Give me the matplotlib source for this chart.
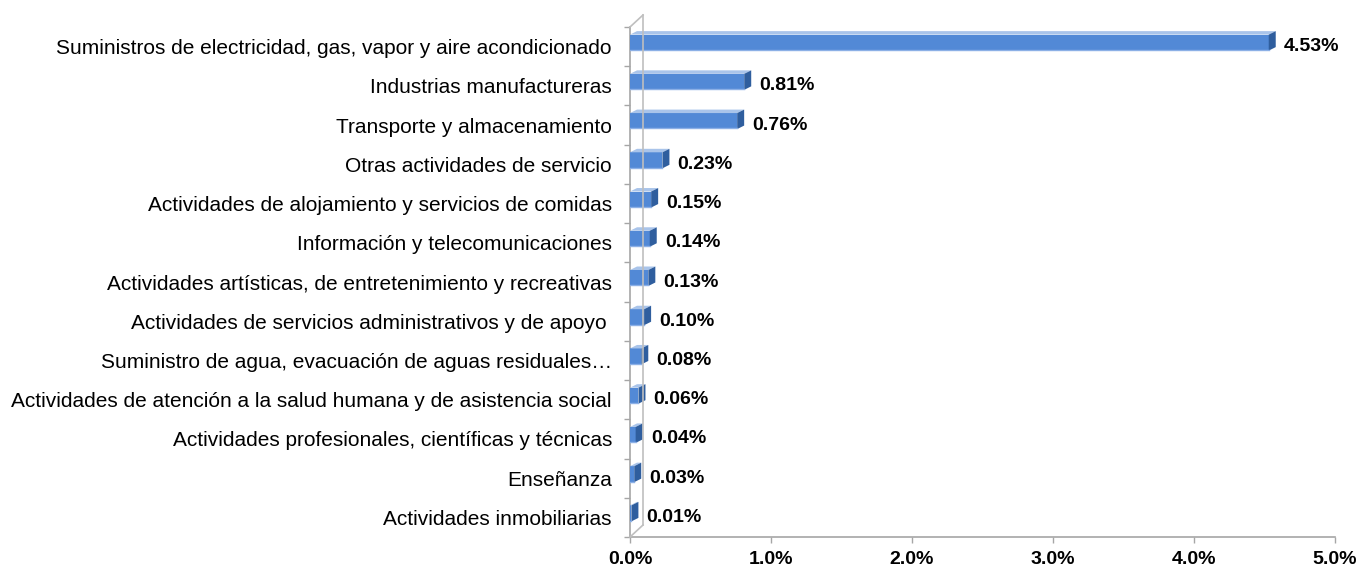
import matplotlib
matplotlib.use("Agg")
import matplotlib.pyplot as plt
from matplotlib.patches import Polygon
from matplotlib.lines import Line2D
from matplotlib.ticker import FuncFormatter, MultipleLocator
import numpy as np

categories = [
    "Suministros de electricidad, gas, vapor y aire acondicionado",
    "Industrias manufactureras",
    "Transporte y almacenamiento",
    "Otras actividades de servicio",
    "Actividades de alojamiento y servicios de comidas",
    "Información y telecomunicaciones",
    "Actividades artísticas, de entretenimiento y recreativas",
    "Actividades de servicios administrativos y de apoyo ",
    "Suministro de agua, evacuación de aguas residuales…",
    "Actividades de atención a la salud humana y de asistencia social",
    "Actividades profesionales, científicas y técnicas",
    "Enseñanza",
    "Actividades inmobiliarias",
]
values = [4.53, 0.81, 0.76, 0.23, 0.15, 0.14, 0.13, 0.10, 0.08, 0.06, 0.04, 0.03, 0.01]
value_labels = ["4.53%", "0.81%", "0.76%", "0.23%", "0.15%", "0.14%", "0.13%",
                "0.10%", "0.08%", "0.06%", "0.04%", "0.03%", "0.01%"]

W, H = 1356, 569
plt.rcParams['font.family'] = ['Liberation Sans', 'DejaVu Sans']
fig = plt.figure(figsize=(W / 100, H / 100), dpi=100)

# axes in pixel coords
x0p, x1p = 630, 1335
ytop, ybot = 27, 537
ax = fig.add_axes([x0p / W, (H - ybot) / H, (x1p - x0p) / W, (ybot - ytop) / H])
n = len(categories)
ax.set_xlim(0, 5)
ax.set_ylim(n - 0.5, -0.5)

dpx_x = 5 / (x1p - x0p)
dpx_y = n / (ybot - ytop)

front_c = '#5289D6'
top_c = '#A9C4EA'
side_c = '#2F5E9E'

ypos = np.arange(n)
h = 16 * dpx_y
off = (-12 + 8) * dpx_y
bars = ax.barh(ypos + off, values, height=h, color=front_c, edgecolor='none', zorder=3)

ddx = 7 * dpx_x
ddy = 3.5 * dpx_y
for b in bars:
    x = b.get_x(); w = b.get_width(); y = b.get_y(); hh = b.get_height()
    top = y
    bottom = y + hh
    top_poly = Polygon([(x, top), (x + w, top), (x + w + ddx, top - ddy), (x + ddx, top - ddy)],
                       closed=True, facecolor=top_c, edgecolor='none', zorder=3)
    side_poly = Polygon([(x + w, top), (x + w, bottom), (x + w + ddx, bottom - ddy), (x + w + ddx, top - ddy)],
                        closed=True, facecolor=side_c, edgecolor='none', zorder=3)
    ax.add_line(Line2D([x, x + w], [bottom - 0.6 * dpx_y, bottom - 0.6 * dpx_y], color='#8CB0E6', lw=1.0, zorder=4))
    ax.add_patch(top_poly)
    ax.add_patch(side_poly)

for i, (v, lab) in enumerate(zip(values, value_labels)):
    ax.annotate(lab, xy=(v, i), xytext=(11, 0), textcoords='offset points',
                ha='left', va='center', fontsize=14, fontweight='bold', color='black',
                annotation_clip=False)

gray = '#A6A6A6'
for s in ['top', 'right']:
    ax.spines[s].set_visible(False)
ax.spines['left'].set_color(gray)
ax.spines['bottom'].set_color(gray)
ax.spines['left'].set_linewidth(1.2)
ax.spines['bottom'].set_linewidth(1.2)

def fx(p):
    return p / W
def fy(p):
    return (H - p) / H

wall = [
    ([643, 643], [15, 525]),
    ([630, 643], [ytop, 15]),
    ([630, 643], [ybot, 525]),
]
for xs, ys in wall:
    fig.add_artist(Line2D([fx(v) for v in xs], [fy(v) for v in ys], color='#BFBFBF', lw=1.2, zorder=1))

ax.set_yticks(ypos)
ax.set_yticklabels(categories, fontsize=15)
ax.tick_params(axis='y', which='major', length=0, pad=13)
ax.set_yticks(np.arange(n + 1) - 0.5, minor=True)
ax.tick_params(axis='y', which='minor', length=4, color=gray, width=1)

ax.xaxis.set_major_locator(MultipleLocator(1))
ax.xaxis.set_major_formatter(FuncFormatter(lambda v, p: f"{v:.1f}%"))
ax.tick_params(axis='x', length=4, color=gray, width=1, pad=6)
for t in ax.get_xticklabels():
    t.set_fontweight('bold')
    t.set_fontsize(14)

fig.savefig("out.png", dpi=100)
